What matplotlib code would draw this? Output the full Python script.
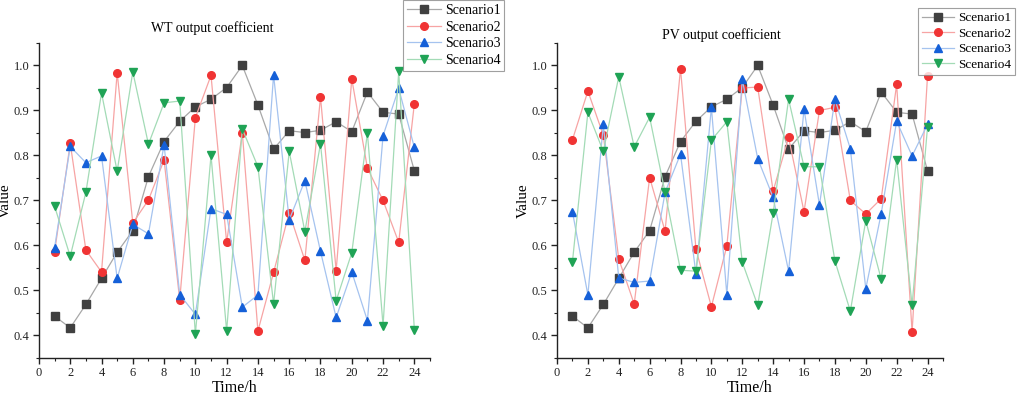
import matplotlib
matplotlib.use("Agg")
from matplotlib import pyplot as plt
from matplotlib.ticker import MultipleLocator

import numpy as np


hours = list(range(1, 25))

# WT output coefficient
wt_s1 = [0.443, 0.417, 0.469, 0.527, 0.585, 0.633, 0.753, 0.831, 0.876, 0.908, 0.925, 0.951,
         1.000, 0.912, 0.814, 0.855, 0.851, 0.856, 0.875, 0.853, 0.941, 0.896, 0.892, 0.766]
wt_s2 = [0.586, 0.827, 0.590, 0.541, 0.984, 0.650, 0.701, 0.790, 0.479, 0.884, 0.978, 0.607,
         0.851, 0.410, 0.540, 0.673, 0.567, 0.930, 0.544, 0.970, 0.772, 0.700, 0.607, 0.915]
wt_s3 = [0.595, 0.820, 0.784, 0.799, 0.527, 0.647, 0.626, 0.824, 0.491, 0.447, 0.682, 0.669,
         0.463, 0.490, 0.979, 0.657, 0.744, 0.587, 0.440, 0.541, 0.433, 0.844, 0.949, 0.818]
wt_s4 = [0.687, 0.576, 0.718, 0.939, 0.765, 0.986, 0.825, 0.917, 0.921, 0.403, 0.800, 0.410,
         0.859, 0.775, 0.470, 0.809, 0.631, 0.826, 0.477, 0.584, 0.850, 0.422, 0.987, 0.413]

# PV output coefficient
pv_s1 = wt_s1
pv_s2 = [0.835, 0.943, 0.845, 0.570, 0.470, 0.751, 0.632, 0.993, 0.592, 0.464, 0.599, 0.950,
         0.952, 0.721, 0.840, 0.675, 0.900, 0.907, 0.700, 0.670, 0.704, 0.958, 0.408, 0.977]
pv_s3 = [0.675, 0.490, 0.869, 0.528, 0.518, 0.521, 0.718, 0.803, 0.537, 0.907, 0.491, 0.969,
         0.793, 0.707, 0.543, 0.903, 0.690, 0.925, 0.815, 0.504, 0.671, 0.876, 0.799, 0.869]
pv_s4 = [0.564, 0.896, 0.809, 0.975, 0.819, 0.885, 0.718, 0.545, 0.543, 0.834, 0.875, 0.563,
         0.467, 0.672, 0.925, 0.775, 0.775, 0.566, 0.454, 0.655, 0.525, 0.791, 0.467, 0.863]

labels = ["Scenario1", "Scenario2", "Scenario3", "Scenario4"]
markers = ["s", "o", "^", "v"]
mark_colors = ["#404040", "#f03434", "#1560d8", "#1fa355"]
line_colors = ["#a8a8a8", "#f7a4a4", "#a5c3ef", "#a3dbb6"]

plt.rcParams['font.family'] = ['Liberation Serif', 'DejaVu Serif']

fig = plt.figure(figsize=(10.17, 3.98), dpi=100)

# title, data, axes rect, title pos, legend anchor, legend loc, legend font
panels = [
    ("WT output coefficient", [wt_s1, wt_s2, wt_s3, wt_s4],
     [0.0383, 0.1005, 0.3845, 0.7915], (0.442, 1.025),
     (403 / 1017, 1.0), "upper left", 10),
    ("PV output coefficient", [pv_s1, pv_s2, pv_s3, pv_s4],
     [0.5477, 0.1005, 0.3795, 0.7915], (0.425, 1.003),
     (1015 / 1017, 1 - 8 / 398), "upper right", 9.5),
]

for title, series, rect, tpos, lpos, lloc, lsize in panels:
    ax = fig.add_axes(rect)
    for i, vals in enumerate(series):
        ax.plot(hours, vals, color=line_colors[i], lw=0.9, marker=markers[i],
                markersize=5.5, markerfacecolor=mark_colors[i],
                markeredgecolor=mark_colors[i], label=labels[i])

    ax.set_xlim(0, 25)
    ax.set_ylim(0.35, 1.05)
    ax.xaxis.set_major_locator(MultipleLocator(2))
    ax.xaxis.set_minor_locator(MultipleLocator(1))
    ax.yaxis.set_minor_locator(MultipleLocator(0.05))
    ax.set_yticks(np.arange(0.4, 1.01, 0.1))
    ax.yaxis.set_major_formatter(plt.FormatStrFormatter("%.1f"))

    for side in ["top", "right"]:
        ax.spines[side].set_visible(False)
    for side in ["left", "bottom"]:
        ax.spines[side].set_linewidth(1.0)
        ax.spines[side].set_color("#222222")
    ax.tick_params(which="major", direction="out", length=4, width=1.0,
                   labelsize=9, colors="#222222", pad=2.5)
    ax.tick_params(axis="y", which="major", pad=3)
    ax.tick_params(which="minor", direction="out", length=2.5, width=0.8,
                   colors="#222222")

    ax.set_xlabel("Time/h", fontsize=11.5, va="center")
    ax.set_ylabel("Value", fontsize=11, va="center")
    ax.xaxis.set_label_coords(0.5, -0.095)
    ax.yaxis.set_label_coords(-0.086, 0.5)
    ax.text(tpos[0], tpos[1], title, transform=ax.transAxes,
            ha="center", va="bottom", fontsize=10)

    leg = ax.legend(loc=lloc, bbox_to_anchor=lpos,
                    bbox_transform=fig.transFigure, fontsize=lsize,
                    frameon=True, fancybox=False, edgecolor="#888888",
                    borderpad=0.3, labelspacing=0.25, handlelength=2.4,
                    handletextpad=0.3, borderaxespad=0.0)
    leg.get_frame().set_linewidth(0.8)

fig.savefig("out.png", dpi=100)
